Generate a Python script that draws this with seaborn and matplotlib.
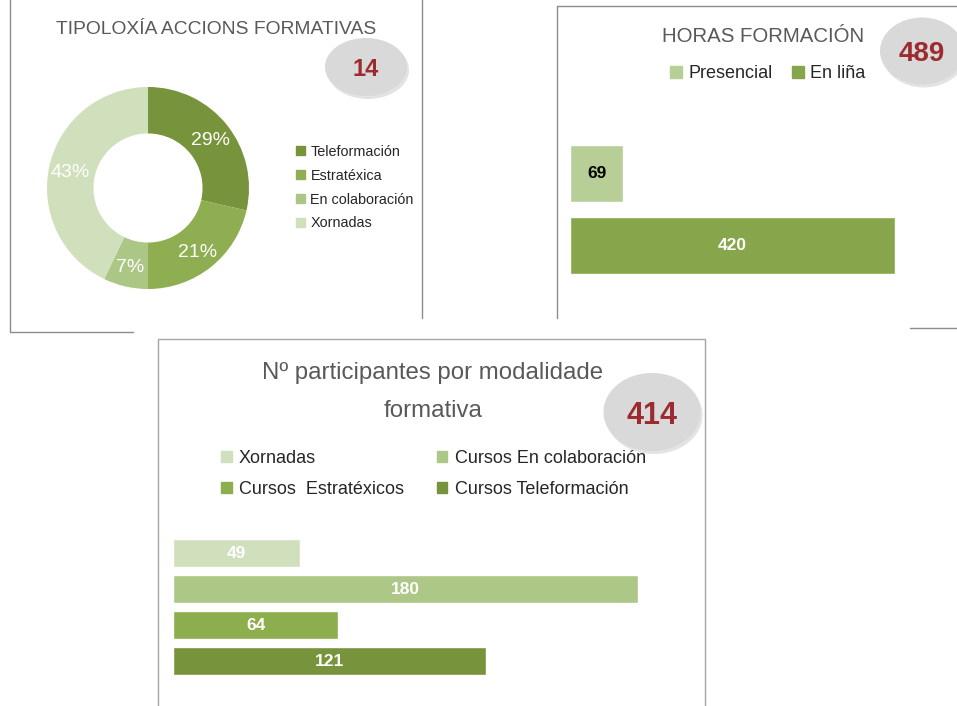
import matplotlib
matplotlib.use("Agg")
import matplotlib.pyplot as plt
from matplotlib.patches import Ellipse, Patch
import seaborn as sns

sns.set_style("white")
plt.rcParams['font.family'] = ['Liberation Sans', 'DejaVu Sans']

# datos
tipos = ['Teleformación', 'Estratéxica', 'En colaboración', 'Xornadas']
accions = [4, 3, 1, 6]
cores_tipos = ['#77933c', '#8fae51', '#acc686', '#d0dfbc']

modos = ['Presencial', 'En liña']
horas = [69, 420]
cores_modos = ['#b7cf97', '#87a54b']
cor_etiq_horas = ['black', 'white']

modalidades = ['Xornadas', 'Cursos En colaboración', 'Cursos  Estratéxicos', 'Cursos Teleformación']
participantes = [49, 180, 64, 121]
cores_modal = ['#d0dfbc', '#adc787', '#8dae4d', '#77933c']

W, H = 957, 706
fig = plt.figure(figsize=(W / 100, H / 100), dpi=100)

# capa de fondo en pixeles para marcos, titulos e elipses
bg = fig.add_axes([0, 0, 1, 1])
bg.set_xlim(0, W)
bg.set_ylim(H, 0)
bg.axis('off')


def eixo(x, y, w, h):
    a = fig.add_axes([x / W, 1 - (y + h) / H, w / W, h / H])
    a.patch.set_alpha(0)
    return a


def total(x, y, w, h, n, fs):
    bg.add_patch(Ellipse((x + 2, y + 3), w, h, color='#c8c8c8', alpha=0.5, lw=0))
    bg.add_patch(Ellipse((x, y), w, h, color='#d9d9d9', lw=0))
    bg.text(x, y, str(n), ha='center', va='center_baseline', fontsize=fs,
            fontweight='bold', color='#9c2b30')


gris = '#8c8c8c'
# marcos
bg.plot([10, 10, 133], [0, 332, 332], color=gris, lw=1)
bg.plot([422, 422], [0, 318], color=gris, lw=1)
bg.plot([557, 557], [318, 6], color=gris, lw=1)
bg.plot([557, 957], [6, 6], color=gris, lw=1)
bg.plot([910, 957], [328, 328], color=gris, lw=1)
bg.plot([158, 158, 705, 705], [706, 339, 339, 706], color='#a6a6a6', lw=1)

# ---- panel 1: donut ----
bg.text(216, 28, 'TIPOLOXÍA ACCIONS FORMATIVAS', ha='center', va='center_baseline',
        fontsize=13.9, color='#595959')
total(366, 67, 82, 58, sum(accions), 17)

ax1 = eixo(47, 87, 202, 202)
_, _, pct = ax1.pie(accions, colors=cores_tipos, startangle=90, counterclock=False,
                    autopct=lambda p: f'{p:.0f}%', pctdistance=0.79, radius=1,
                    wedgeprops=dict(width=0.46, edgecolor='none'),
                    textprops=dict(color='white', fontsize=14))
for t in pct:
    t.set_va('center_baseline')
ax1.set_xlim(-1, 1)
ax1.set_ylim(-1, 1)
ax1.set_aspect('equal')
fig.legend(handles=[Patch(color=c, label=t) for c, t in zip(cores_tipos, tipos)],
           loc='upper left', bbox_to_anchor=(296 / W, 1 - 145 / H), frameon=False,
           fontsize=10.4, handlelength=0.6, handleheight=0.6, handletextpad=0.4,
           labelspacing=0.68, borderpad=0, borderaxespad=0, labelcolor='#262626')

# ---- panel 2: horas ----
bg.text(763, 35, 'HORAS FORMACIÓN', ha='center', va='center_baseline', fontsize=14.7,
        color='#595959')
total(922, 51, 84, 67, sum(horas), 20)
fig.legend(handles=[Patch(color=c, label=t) for c, t in zip(cores_modos, modos)],
           loc='center', bbox_to_anchor=(768 / W, 1 - 74 / H), ncol=2, frameon=False,
           fontsize=13, handlelength=0.65, handleheight=0.65, handletextpad=0.35,
           columnspacing=1.1, borderpad=0, borderaxespad=0, labelcolor='#262626')

ax2 = eixo(570, 138, 325, 143)
sns.barplot(x=horas, y=modos, hue=modos, palette=cores_modos, orient='h', width=0.8,
            saturation=1, legend=False, ax=ax2)
ax2.set_xlim(0, max(horas))
ax2.set_ylim(1.5, -0.5)
for cont, c in zip(ax2.containers, cor_etiq_horas):
    ax2.bar_label(cont, label_type='center', color=c, fontsize=12.5, fontweight='bold')
ax2.axis('off')

# ---- panel 3: participantes ----
bg.text(433, 392, 'Nº participantes por modalidade\nformativa', ha='center', va='center',
        fontsize=17.3, color='#595959', linespacing=1.9)
total(652, 412, 97, 78, sum(participantes), 22)
orde = [0, 2, 1, 3]  # a lenda énchese por columnas
fig.legend(handles=[Patch(color=cores_modal[i], label=modalidades[i]) for i in orde],
           loc='upper left', bbox_to_anchor=(221 / W, 1 - 450 / H), ncol=2, frameon=False,
           fontsize=13, handlelength=0.6, handleheight=0.6, handletextpad=0.4,
           columnspacing=1.8, labelspacing=0.78, borderpad=0, borderaxespad=0,
           labelcolor='#262626')

ax3 = eixo(173, 535, 465, 144)
sns.barplot(x=participantes, y=modalidades, hue=modalidades, palette=cores_modal, orient='h',
            width=0.78, saturation=1, legend=False, ax=ax3)
ax3.set_xlim(0, max(participantes))
ax3.set_ylim(3.5, -0.5)
for cont in ax3.containers:
    ax3.bar_label(cont, label_type='center', color='white', fontsize=12.5, fontweight='bold')
ax3.axis('off')

fig.savefig('out.png', dpi=100)
